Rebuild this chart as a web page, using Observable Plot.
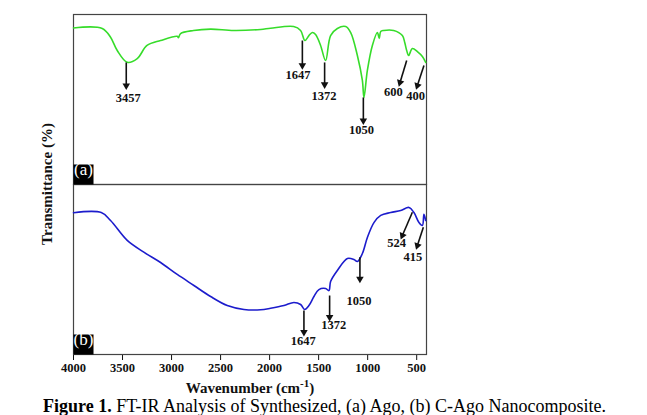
<!DOCTYPE html>
<html>
<head>
<meta charset="utf-8">
<script src="https://cdn.jsdelivr.net/npm/d3@7"></script>
<script src="https://cdn.jsdelivr.net/npm/@observablehq/plot@0.6"></script>
<style>
  html, body { margin: 0; padding: 0; background: #fff; }
  #chart svg { display: block; }
  .caption { font-family: "Liberation Serif", "Times New Roman", serif; font-size: 18px; color: #000; margin: 0 0 0 43px; line-height: 18px; white-space: nowrap; }
</style>
</head>
<body>
<div id="chart"></div>
<div class="caption"><b>Figure 1.</b> FT-IR Analysis of Synthesized, (a) Ago, (b) C-Ago Nanocomposite.</div>
<script>
// FT-IR spectrum (a) Ago — wavenumber (cm-1) and transmittance (a.u.)
const wavenumberA = [4000, 3707, 3622, 3554, 3452, 3350, 3250, 3112, 2942, 2930, 2908, 2776, 2602, 2367, 2092, 1990, 1755, 1684, 1640, 1599, 1564, 1531, 1480, 1429, 1378, 1309, 1224, 1173, 1105, 1054, 1038, 1003, 952, 901, 882, 867, 837, 735, 646, 622, 602, 582, 544, 493, 442, 408];
const transmittanceA = [92.1, 91.8, 86.6, 78.8, 71.9, 74.1, 81.8, 84.7, 87.2, 86.4, 88.8, 90.6, 91.4, 90.6, 91.2, 91.9, 92.9, 90.6, 84.7, 87.6, 89.4, 88.2, 81.8, 72.9, 87.6, 91.8, 92.9, 89.4, 75.9, 61.2, 51.2, 67.1, 81.8, 89.4, 85.9, 90.0, 90.6, 90.6, 87.6, 83.5, 78.8, 75.9, 80.0, 78.2, 75.3, 71.8];

// FT-IR spectrum (b) C-Ago nanocomposite
const wavenumberB = [4000, 3717, 3622, 3452, 3283, 3112, 2942, 2772, 2602, 2432, 2262, 2092, 1990, 1854, 1752, 1684, 1643, 1599, 1548, 1497, 1429, 1395, 1378, 1309, 1207, 1140, 1105, 1054, 1003, 936, 867, 765, 663, 579, 528, 477, 442, 426, 408];
const transmittanceB = [83.4, 83.5, 78.8, 67.1, 60.2, 54.1, 47.1, 40.6, 34.1, 28.8, 26.5, 26.3, 27.2, 28.8, 30.6, 29.4, 26.5, 28.8, 34.1, 38.2, 38.8, 37.6, 42.9, 49.4, 56.5, 55.9, 54.7, 59.4, 68.8, 77.6, 81.8, 83.5, 84.7, 86.5, 83.5, 77.6, 75.9, 82.4, 78.8];

// Peak annotations: panel, label, arrow start/end, label position
const peakPanel = ["a", "a", "a", "a", "a", "a", "b", "b", "b", "b", "b"];
const peakLabel = ["3457", "1647", "1372", "1050", "600", "400", "1647", "1372", "1050", "524", "415"];
const arrowX1 = [3462, 1666, 1439, 1044, 602, 426, 1650, 1388, 1079, 544, 432];
const arrowT1 = [71.8, 84.7, 71.8, 51.2, 72.9, 70.0, 25.9, 34.7, 57.2, 83.7, 74.9];
const arrowX2 = [3462, 1666, 1439, 1044, 670, 493, 1650, 1388, 1079, 646, 493];
const arrowT2 = [58.2, 70.0, 58.8, 37.6, 60.0, 58.2, 13.1, 21.9, 44.5, 70.0, 64.1];
const labelX = [3442, 1711, 1446, 1064, 738, 510, 1656, 1347, 1089, 704, 538];
const labelT = [50.6, 64.7, 51.8, 32.0, 54.7, 51.8, 7.8, 17.1, 31.4, 65.5, 57.2];

const panels = ["a", "b"];
const panelTags = ["(a)", "(b)"];
const xTicks = [4000, 3500, 3000, 2500, 2000, 1500, 1000, 500];

const W = 647, H = 397, ML = 73, MR = 221, MT = 14, MB = 43;
const xDomain = [4000, 400];

const spectra = [
  ...wavenumberA.map((w, i) => ({panel: "a", w, t: transmittanceA[i]})),
  ...wavenumberB.map((w, i) => ({panel: "b", w, t: transmittanceB[i]}))
];

// pixels per unit, used to orient the arrowheads along each arrow
const pxX = (W - ML - MR) / (xDomain[0] - xDomain[1]);
const pxY = (H - MT - MB) / 2 / 100;
const peaks = peakLabel.map((label, i) => {
  const dx = -(arrowX2[i] - arrowX1[i]) * pxX;
  const dy = -(arrowT2[i] - arrowT1[i]) * pxY;
  return {
    panel: peakPanel[i], label,
    x1: arrowX1[i], t1: arrowT1[i], x2: arrowX2[i], t2: arrowT2[i],
    lx: labelX[i], lt: labelT[i],
    angle: Math.atan2(dx, -dy) * 180 / Math.PI
  };
});
const tags = panels.map((p, i) => ({panel: p, tag: panelTags[i]}));

const chart = Plot.plot({
  width: W, height: H,
  marginLeft: ML, marginRight: MR, marginTop: MT, marginBottom: MB,
  style: {fontFamily: "Liberation Serif, Times New Roman, serif", fontSize: "12.5px", fontWeight: "bold", background: "white", color: "#111", overflow: "visible"},
  x: {domain: xDomain, ticks: xTicks, tickFormat: d => String(d), tickSize: 6, tickPadding: 3, label: "Wavenumber (cm-1)", labelAnchor: "center", labelOffset: 38},
  y: {domain: [0, 100], axis: null},
  fy: {domain: panels, padding: 0, axis: null},
  color: {domain: panels, range: ["#36dc2a", "#1c1ccc"]},
  marks: [
    Plot.frame({stroke: "#444", strokeWidth: 1.2}),
    Plot.line(spectra, {x: "w", y: "t", fy: "panel", stroke: "panel", strokeWidth: 1.6, curve: "catmull-rom"}),
    Plot.link(peaks, {x1: "x1", y1: "t1", x2: "x2", y2: "t2", fy: "panel", stroke: "#111", strokeWidth: 1.6}),
    Plot.dot(peaks, {x: "x2", y: "t2", fy: "panel", symbol: "triangle", r: 2.8, fill: "#111", stroke: "none", rotate: "angle"}),
    Plot.text(peaks, {x: "lx", y: "lt", fy: "panel", text: "label", fill: "#111", fontSize: 12.5, fontWeight: "bold"}),
    Plot.dot(tags, {fy: "panel", frameAnchor: "bottom-left", dx: 10, dy: -10, symbol: "square", r: 11.3, fill: "black", stroke: "none"}),
    Plot.text(tags, {fy: "panel", frameAnchor: "bottom-left", dx: 10, dy: -10, text: "tag", fill: "white", fontSize: 17, fontWeight: "normal", textAnchor: "middle"})
  ]
});
document.getElementById("chart").appendChild(chart);

// superscript on the x-axis title and a shared y-axis title
const svg = chart.tagName.toLowerCase() === "svg" ? chart : chart.querySelector("svg");
const ns = "http://www.w3.org/2000/svg";
for (const t of svg.querySelectorAll("text")) {
  if (t.textContent.includes("Wavenumber")) {
    t.textContent = "";
    t.setAttribute("font-size", "15");
    const a = document.createElementNS(ns, "tspan"); a.textContent = "Wavenumber (cm";
    const b = document.createElementNS(ns, "tspan"); b.textContent = "-1"; b.setAttribute("dy", "-6"); b.setAttribute("font-size", "11");
    const c = document.createElementNS(ns, "tspan"); c.textContent = ")"; c.setAttribute("dy", "6");
    t.append(a, b, c);
  }
}
const ylab = document.createElementNS(ns, "text");
ylab.textContent = "Transmittance (%)";
ylab.setAttribute("transform", `translate(${ML - 24},${(MT + H - MB) / 2}) rotate(-90)`);
ylab.setAttribute("text-anchor", "middle");
ylab.setAttribute("dominant-baseline", "middle");
ylab.setAttribute("font-size", "15");
ylab.setAttribute("font-weight", "bold");
ylab.setAttribute("fill", "#111");
svg.appendChild(ylab);
</script>
</body>
</html>
